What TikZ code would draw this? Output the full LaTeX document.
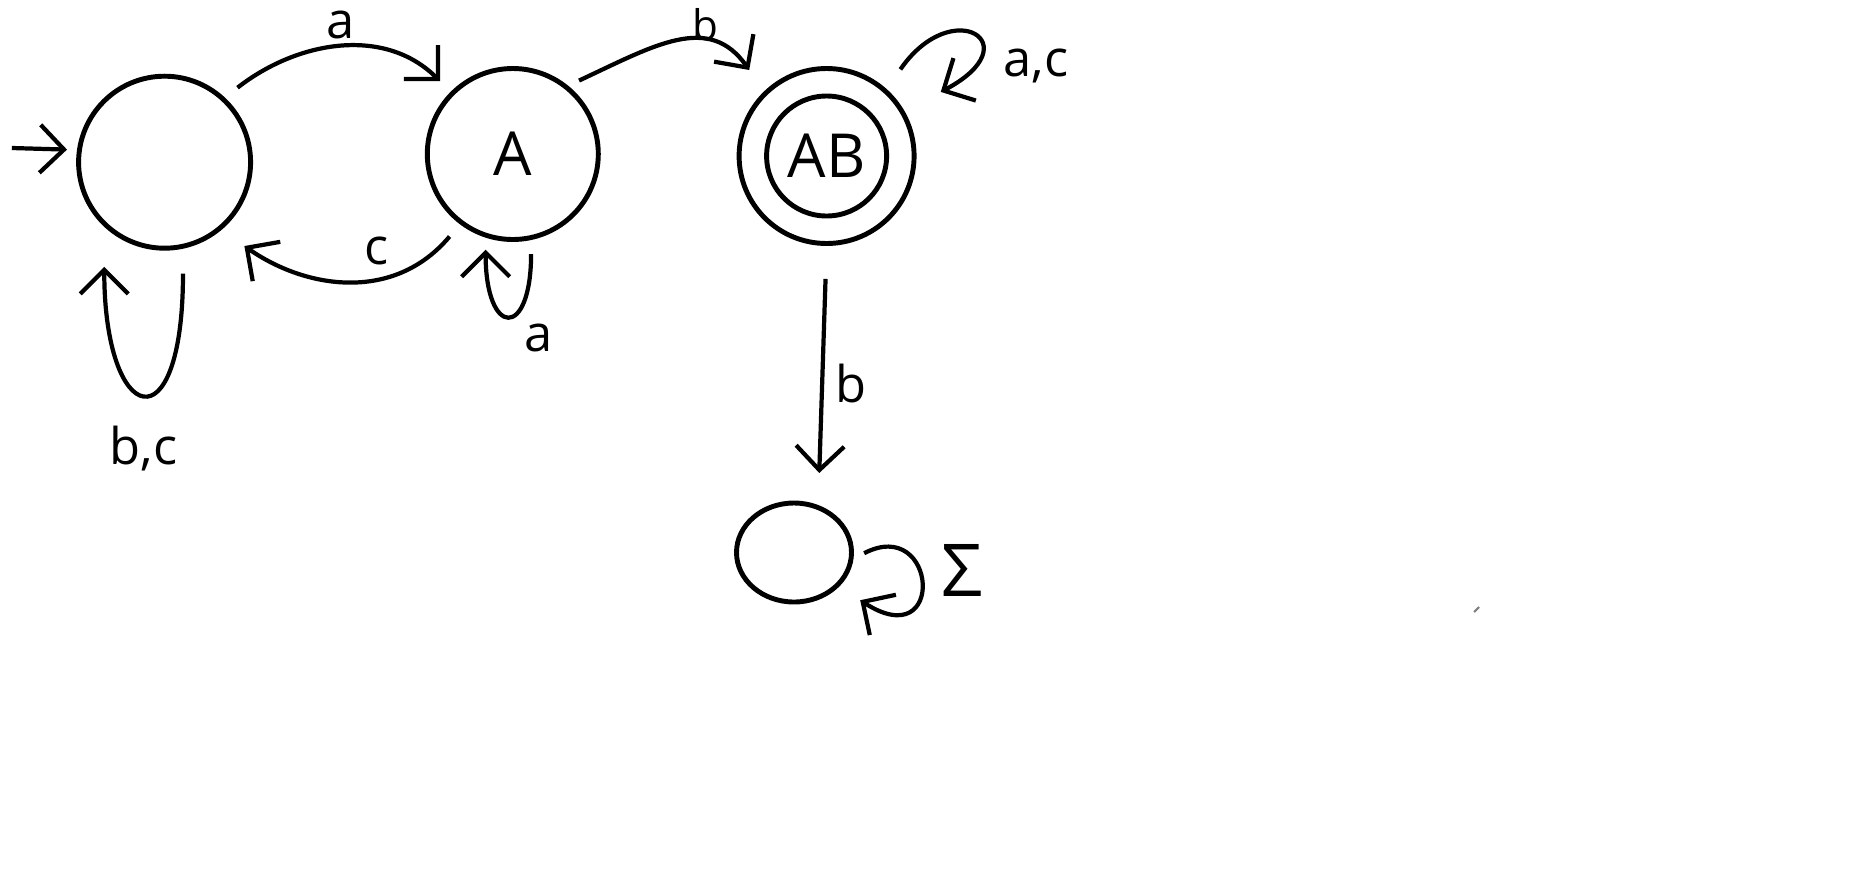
\documentclass[tikz,border=0pt]{standalone}
\usepackage{fontspec}
\setmainfont{Open Sans}
\usetikzlibrary{arrows.meta, shapes.geometric}

\tikzset{
  state/.style={circle, draw, line width=1.4pt, minimum size=1.72cm, inner sep=0pt, font=\LARGE},
  trans/.style={line width=1.2pt, -{Straight Barb[length=2.4mm, width=4.8mm]}},
  lbl/.style={font=\Large, inner sep=1pt}
}

\begin{document}
\begin{tikzpicture}
\useasboundingbox (0,0) rectangle (18.57,-8.80);

% states
\node[state] (q0) at (1.646,-1.622) {};
\node[state, minimum size=1.71cm] (q1) at (5.128,-1.54) {A};
\node[state, minimum size=1.75cm] (q2) at (8.266,-1.56) {};
\node[state, minimum size=1.2cm] (q2in) at (q2) {AB};
\node[ellipse, draw, line width=1.4pt, minimum width=1.15cm, minimum height=0.99cm] (q3) at (7.94,-5.525) {};

% start arrow
\coordinate (init) at (0.118,-1.48);
\draw[trans, shorten >=0.1cm] (init) -- (q0.172);

% transitions between states
\draw[trans, shorten <=0.16cm, shorten >=0.15cm] (q0.47) to[out=38, in=135, looseness=1.05]
  node[lbl, midway, yshift=0.24cm] {a} (q1.135);
\draw[trans, shorten <=0.16cm, shorten >=0.28cm] (q1.-127.5) to[out=-130, in=-35, looseness=1.1]
  node[lbl, pos=0.38, yshift=0.25cm] {c} (q0.-50);
\draw[trans, shorten <=0.12cm, shorten >=0.26cm] (q1.51) to[out=25, in=125, looseness=1.25]
  node[lbl, font=\large, inner sep=0pt, pos=0.65, yshift=0.2cm] {b} (q2.134.6);
\draw[trans, shorten <=0.33cm, shorten >=0.32cm] (q2.-90) --
  node[lbl, right=0.07cm, yshift=-0.08cm] {b} (q3.63);

% self loops
\draw[trans, shorten <=0.25cm, shorten >=0.4cm] (q0.-78) .. controls +(-90:2.0) and +(-90:2.0) .. (q0.-133)
  node[lbl, midway, below=0.33cm] {b,c};
\draw[trans, shorten <=0.14cm, shorten >=0.12cm] (q1.-78) .. controls +(-90:1.0) and +(-90:1.0) .. (q1.-108)
  node[lbl, midway, anchor=north west, xshift=0.11cm, yshift=-0.04cm] {a};
\draw[trans, shorten <=0.24cm, shorten >=0.41cm] (q2.48.6) .. controls +(55.5:1.158) and +(27.8:1.442) .. (q2.30)
  node[lbl, midway, anchor=west, xshift=0.3cm, yshift=-0.27cm] {a,c};
\draw[trans, shorten <=0.12cm, shorten >=0.25cm] (q3.-6.2) .. controls +(27.5:0.947) and +(-33:1.284) .. (q3.-37)
  node[lbl, font=\huge, midway, anchor=west, xshift=0.18cm, yshift=0.12cm] {Σ};

% stray pen mark
\draw[gray, line width=0.6pt] (14.74,-6.12) -- (14.79,-6.07);

\end{tikzpicture}
\end{document}
